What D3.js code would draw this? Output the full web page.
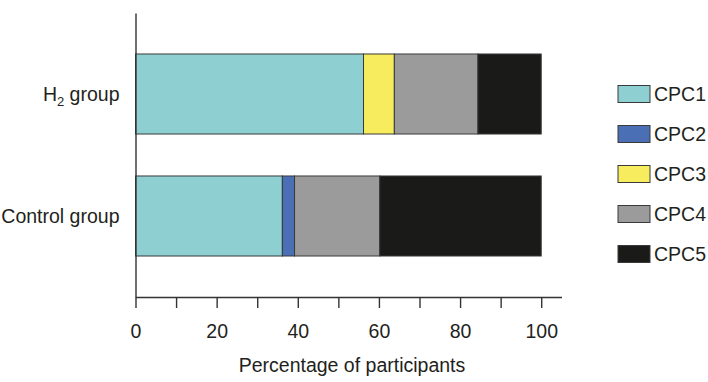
<!DOCTYPE html>
<html lang="en">
<head>
  <meta charset="UTF-8">
  <title>CPC stacked bars</title>
  <script src="https://cdnjs.cloudflare.com/ajax/libs/d3/7.8.5/d3.min.js"></script>
  <style>
      body { margin: 0; background: #fff; }
      svg { display: block; font-family: "Liberation Sans", Arial, sans-serif; }
  </style>
</head>
<body>
<div id="chart"></div>
<script>
  // Data (percent of participants)
  const groups = ["H2 group", "Control group"];
  const classes = ["CPC1", "CPC2", "CPC3", "CPC4", "CPC5"];
  const h2Values = [56.2, 0, 7.6, 20.6, 15.6];
  const controlValues = [36.2, 3.0, 0, 21.0, 39.8];
  const colors = ["#8ecfd1", "#4a6fb5", "#f7ec5d", "#9b9b9b", "#1a1a18"];
  const xTicks = [0, 10, 20, 30, 40, 50, 60, 70, 80, 90, 100];

  const width = 708, height = 382;
  const fontSize = "19.5px";
  const textColor = "#231f20";
  const axisColor = "#333";

  const rows = groups.map((g, i) => {
    const vals = i === 0 ? h2Values : controlValues;
    const row = { group: g };
    classes.forEach((c, j) => row[c] = vals[j]);
    return row;
  });
  const series = d3.stack().keys(classes)(rows);

  const x = d3.scaleLinear([0, 105], [135.5, 561.5]);
  const y = d3.scaleBand()
      .domain(groups)
      .range([13, 297])
      .paddingInner(0.344)
      .paddingOuter(0.336);
  const color = d3.scaleOrdinal(classes, colors);

  const svg = d3.select("#chart").append("svg")
      .attr("width", width)
      .attr("height", height)
      .attr("viewBox", [0, 0, width, height]);

  // bars
  svg.append("g")
    .selectAll("g")
    .data(series)
    .join("g")
      .attr("fill", d => color(d.key))
    .selectAll("rect")
    .data(d => d.filter(s => s[1] - s[0] > 0))
    .join("rect")
      .attr("x", d => x(d[0]))
      .attr("y", d => y(d.data.group))
      .attr("width", d => x(d[1]) - x(d[0]))
      .attr("height", y.bandwidth())
      .attr("stroke", "#3a3a3a")
      .attr("stroke-width", 1);

  // x axis
  const xAxis = svg.append("g")
      .attr("transform", `translate(0,${y.range()[1]})`)
      .call(d3.axisBottom(x)
          .tickValues(xTicks)
          .tickFormat(d => d % 20 === 0 ? d : "")
          .tickSize(11)
          .tickSizeOuter(0)
          .tickPadding(16));
  xAxis.select(".domain").attr("stroke", axisColor).attr("stroke-width", 1.4);
  xAxis.selectAll(".tick line").attr("stroke", axisColor).attr("stroke-width", 1.4);
  xAxis.selectAll(".tick text")
      .attr("fill", textColor)
      .style("font-size", fontSize);

  // y axis
  const yAxis = svg.append("g")
      .attr("transform", `translate(${x(0)},0)`)
      .call(d3.axisLeft(y).tickSize(0).tickSizeOuter(0).tickFormat(""));
  yAxis.select(".domain").attr("stroke", axisColor).attr("stroke-width", 1.4);

  // group labels, with subscript for H2
  const labels = svg.append("g")
      .attr("text-anchor", "end")
      .attr("fill", textColor)
      .style("font-size", fontSize);
  groups.forEach(g => {
    const t = labels.append("text")
        .attr("x", x(0) - 16)
        .attr("y", y(g) + y.bandwidth() / 2)
        .attr("dy", "0.35em");
    if (g.startsWith("H2")) {
      t.append("tspan").text("H");
      t.append("tspan").text("2").attr("font-size", "13px").attr("dy", "5");
      t.append("tspan").text(" group").attr("dy", "-5");
    } else {
      t.text(g);
    }
  });

  // axis title
  svg.append("text")
      .attr("x", 352)
      .attr("y", 372)
      .attr("text-anchor", "middle")
      .attr("fill", textColor)
      .style("font-size", fontSize)
      .text("Percentage of participants");

  // legend
  const legend = svg.append("g")
      .attr("transform", "translate(618,94)");
  const item = legend.selectAll("g")
      .data(classes)
      .join("g")
      .attr("transform", (d, i) => `translate(0,${i * 40})`);
  item.append("rect")
      .attr("x", 0)
      .attr("y", -8.5)
      .attr("width", 32)
      .attr("height", 17)
      .attr("fill", d => color(d))
      .attr("stroke", "#3a3a3a")
      .attr("stroke-width", 1);
  item.append("text")
      .attr("x", 36)
      .attr("dy", "0.35em")
      .attr("fill", textColor)
      .style("font-size", fontSize)
      .text(d => d);
</script>
</body>
</html>
